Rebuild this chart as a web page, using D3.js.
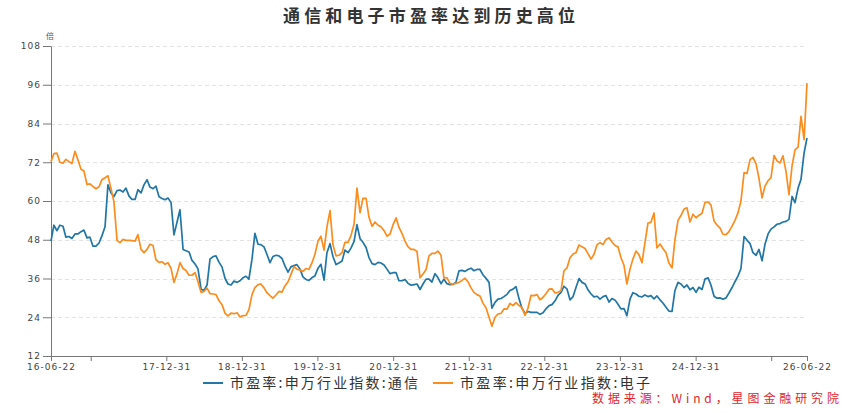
<!DOCTYPE html>
<html>
<head>
<meta charset="utf-8">
<script src="https://cdn.jsdelivr.net/npm/d3@7"></script>
<style>
  body { margin: 0; background: #fff; }
  svg { display: block; }
  .axis text { font-family: "DejaVu Sans", sans-serif; font-size: 9px; fill: #444; letter-spacing: 1px; }
  .axis path, .axis line { stroke: #777; }
  .grid line { stroke: #e2e2e2; stroke-dasharray: 4,3; }
  .cjk { font-family: "Noto Sans CJK SC", sans-serif; }
</style>
</head>
<body>
<svg id="chart" width="857" height="413"></svg>
<script>
var title = "通信和电子市盈率达到历史高位";
var unitLabel = "倍";
var sourceNote = "数据来源：Wind，星图金融研究院";

var startDay = "2016-06-22";
var endDay = "2026-06-22";
var yTicks = [12, 24, 36, 48, 60, 72, 84, 96, 108];
var xTickDays = ["2016-06-22", "2016-12-31", "2017-12-31", "2018-12-31", "2019-12-31", "2020-12-31",
  "2021-12-31", "2022-12-31", "2023-12-31", "2024-12-31", "2025-12-31", "2026-06-22"];
// These two ticks keep their mark but lose the label (it would overlap the end labels).
var unlabelledDays = ["2016-12-31", "2025-12-31"];

var seriesNames = ["市盈率:申万行业指数:通信", "市盈率:申万行业指数:电子"];
var seriesColors = ["#2176a6", "#fb8c1e"];

// Sampled about every two weeks from startDay to endDay.
var telecom = [
  47.6, 52.5, 50.8, 52.5, 52.2, 48.8, 49.0, 48.4, 49.8, 49.8,
  50.5, 51.0, 48.6, 48.8, 46.0, 46.0, 47.0, 49.2, 52.0, 65.0,
  62.5, 61.4, 63.2, 63.4, 62.8, 64.0, 61.5, 60.5, 60.5, 63.5,
  62.5, 65.0, 66.6, 64.3, 63.8, 64.6, 61.3, 60.8, 60.4, 60.9,
  59.5, 49.5, 53.5, 57.3, 45.0, 44.6, 44.2, 41.6, 40.5, 39.0,
  32.7, 32.3, 34.0, 42.0, 42.8, 43.0, 41.0, 39.6, 36.0, 34.3,
  34.0, 35.2, 34.8, 35.3, 36.2, 36.7, 35.8, 42.0, 50.0, 46.6,
  46.5, 45.8, 43.5, 40.9, 42.8, 43.2, 43.0, 42.2, 39.9, 38.0,
  39.6, 40.0, 40.3, 38.9, 36.5, 35.7, 35.4, 36.3, 36.8, 39.2,
  40.4, 35.5, 44.0, 46.8, 42.8, 40.3, 40.8, 41.4, 44.8, 44.0,
  45.4, 47.5, 52.7, 48.3, 47.2, 45.6, 42.5, 40.6, 40.3, 41.0,
  40.8, 40.2, 38.9, 37.5, 37.8, 37.8, 35.3, 35.3, 35.7, 34.5,
  33.9, 34.1, 34.3, 32.6, 34.3, 35.8, 35.8, 34.9, 37.5, 36.3,
  34.4, 35.8, 34.4, 34.1, 34.2, 34.8, 38.4, 38.5, 38.2, 38.8,
  39.2, 38.4, 38.8, 38.8, 37.1, 36.1, 34.8, 26.8, 28.6, 29.6,
  29.8, 30.4, 31.1, 32.3, 32.7, 33.5, 29.7, 26.8, 25.2, 25.8,
  25.5, 25.5, 25.5, 24.9, 25.4, 26.6, 27.6, 27.9, 29.1, 30.8,
  31.7, 33.6, 32.7, 29.4, 30.4, 33.2, 36.0, 34.8, 34.3, 32.5,
  31.2, 30.3, 30.5, 29.6, 30.4, 30.7, 28.7, 29.8, 29.3, 28.0,
  26.6, 26.7, 24.5, 29.6, 31.6, 31.2, 30.5, 30.3, 30.9, 30.4,
  30.7, 29.7, 30.6, 29.4, 28.4, 27.1, 25.9, 25.8, 32.3, 34.8,
  34.3, 33.2, 34.0, 32.5, 33.2, 31.7, 33.3, 32.6, 35.8, 36.2,
  34.0, 30.5, 29.9, 30.0, 29.6, 30.0, 31.5, 33.2, 35.0, 36.8,
  39.1, 49.0, 47.9, 46.8, 44.0, 43.2, 45.0, 41.5, 46.6, 49.8,
  51.3, 52.0, 52.8, 53.0, 53.5, 53.7, 54.3, 61.4, 59.5, 64.0,
  66.7, 74.9, 79.5
];

var electronics = [
  72.2, 74.7, 74.8, 72.0, 71.7, 72.9, 72.2, 71.6, 75.4, 72.8,
  69.8, 69.3, 65.1, 65.3, 64.5, 63.8, 64.4, 66.6, 67.2, 67.8,
  63.8, 59.8, 47.8, 47.1, 48.1, 47.8, 47.8, 47.7, 47.6, 49.6,
  45.0, 44.0, 45.0, 46.6, 46.2, 41.8, 41.0, 41.2, 40.4, 40.9,
  39.1, 34.8, 37.5, 40.9, 39.1, 38.5, 37.0, 37.0, 37.8, 35.0,
  31.7, 32.0, 33.0, 31.3, 31.2, 31.0, 29.1, 27.9, 25.2, 24.4,
  25.3, 25.1, 25.4, 24.1, 24.5, 24.6, 26.3, 31.0, 33.2, 34.1,
  34.3, 33.1, 31.6, 30.7, 29.9, 30.9, 32.0, 31.8, 33.7, 35.0,
  37.2, 39.7, 38.9, 38.6, 38.2, 39.1, 38.8, 40.9, 43.5, 47.6,
  49.1, 44.8, 52.0, 57.0, 46.5, 43.0, 43.2, 44.0, 47.2, 47.2,
  49.3, 52.8, 64.0, 56.4, 60.8, 60.8, 55.0, 52.2, 53.5, 52.5,
  52.0, 50.8, 49.1, 49.8, 52.6, 54.8, 51.8, 49.9, 47.6, 45.8,
  45.0, 45.0, 44.4, 36.2, 37.4, 38.8, 43.0, 43.8, 43.8, 44.5,
  43.2, 36.3, 36.2, 34.5, 34.2, 34.5, 34.8, 35.4, 36.1, 35.0,
  33.1, 31.7, 31.0, 30.6, 28.3, 27.0, 24.0, 21.2, 24.0, 25.0,
  25.2, 26.6, 26.5, 28.3, 27.6, 28.5, 27.6, 27.0, 24.6, 26.8,
  30.8, 30.7, 31.0, 29.4, 30.2, 31.3, 32.7, 32.8, 31.5, 31.7,
  32.3, 38.4, 39.3, 42.4, 43.6, 44.0, 46.4, 45.8, 45.3, 43.7,
  42.0, 43.5, 46.5, 47.1, 46.5, 48.1, 48.6, 47.3, 46.2, 45.8,
  42.5, 40.1, 34.3, 38.9, 42.0, 44.5, 43.4, 40.9, 47.0, 53.2,
  53.4, 56.3, 45.5, 46.7, 45.3, 44.0, 40.8, 39.3, 48.0, 54.0,
  55.5, 57.5, 57.9, 53.5, 55.9, 54.8, 55.6, 56.2, 59.5, 59.7,
  58.8, 53.8, 52.6, 51.6, 49.7, 49.6, 50.5, 52.2, 54.0, 56.4,
  60.0, 68.8, 68.5, 72.8, 73.5, 71.5, 67.0, 61.0, 64.6, 66.3,
  67.2, 74.1, 72.4, 71.8, 74.0, 69.0, 62.0, 71.0, 75.8, 76.7,
  86.2, 79.0, 96.5
];

var parseDay = d3.timeParse("%Y-%m-%d");
var start = parseDay(startDay);
var end = parseDay(endDay);
var span = d3.timeDay.count(start, end);

// Attach a date to each sample, spread evenly across the covered period.
function toPoints(values) {
  var step = span / (values.length - 1);
  return values.map(function(v, i) {
    return { date: d3.timeDay.offset(start, Math.round(i * step)), value: v };
  });
}

var series = [toPoints(telecom), toPoints(electronics)];

var plot = { left: 51, right: 807, top: 46, bottom: 356 };

var x = d3.scaleTime().domain([start, end]).range([plot.left, plot.right]);
var y = d3.scaleLinear().domain([yTicks[0], yTicks[yTicks.length - 1]]).range([plot.bottom, plot.top]);

var svg = d3.select("#chart");

// Dashed horizontal grid.
svg.append("g")
  .attr("class", "grid")
  .selectAll("line")
  .data(yTicks.slice(1))
  .enter().append("line")
    .attr("x1", plot.left)
    .attr("x2", plot.right - 2)
    .attr("y1", function(d) { return Math.round(y(d)) + 0.5; })
    .attr("y2", function(d) { return Math.round(y(d)) + 0.5; });

var fmt = d3.timeFormat("%y-%m-%d");
var xAxis = d3.axisBottom(x)
  .tickValues(xTickDays.map(parseDay))
  .tickSize(5)
  .tickSizeOuter(0)
  .tickPadding(3)
  .tickFormat(function(d) {
    var key = d3.timeFormat("%Y-%m-%d")(d);
    return unlabelledDays.indexOf(key) >= 0 ? "" : fmt(d);
  });

svg.append("g")
  .attr("class", "axis")
  .attr("transform", "translate(0," + plot.bottom + ")")
  .call(xAxis);

var yAxis = d3.axisLeft(y)
  .tickValues(yTicks)
  .tickSize(8)
  .tickSizeOuter(0)
  .tickPadding(2);

svg.append("g")
  .attr("class", "axis")
  .attr("transform", "translate(" + plot.left + ",0)")
  .call(yAxis);

// Lines.
var line = d3.line()
  .x(function(d) { return x(d.date); })
  .y(function(d) { return y(d.value); });

svg.append("g").selectAll("path")
  .data(series)
  .enter().append("path")
    .attr("d", line)
    .attr("fill", "none")
    .attr("stroke", function(d, i) { return seriesColors[i]; })
    .attr("stroke-width", 1.7)
    .attr("stroke-linejoin", "round");

// Title, unit, legend, source.
svg.append("text")
  .attr("class", "cjk")
  .attr("x", 429)
  .attr("y", 22)
  .attr("text-anchor", "middle")
  .attr("font-size", 17)
  .attr("font-weight", "bold")
  .attr("fill", "#333")
  .attr("textLength", 292)
  .attr("lengthAdjust", "spacing")
  .text(title);

svg.append("text")
  .attr("class", "cjk")
  .attr("x", 50)
  .attr("y", 39)
  .attr("text-anchor", "middle")
  .attr("font-size", 8)
  .attr("fill", "#555")
  .text(unitLabel);

var legendX = [203, 433];
var legendTextLen = [188, 190];
var legend = svg.append("g").selectAll("g")
  .data(seriesNames)
  .enter().append("g")
    .attr("transform", function(d, i) { return "translate(" + legendX[i] + ",383)"; });

legend.append("line")
  .attr("x1", 0)
  .attr("x2", 20)
  .attr("stroke", function(d, i) { return seriesColors[i]; })
  .attr("stroke-width", 2);

legend.append("text")
  .attr("class", "cjk")
  .attr("x", 27)
  .attr("y", 5)
  .attr("font-size", 14)
  .attr("fill", "#333")
  .attr("textLength", function(d, i) { return legendTextLen[i]; })
  .attr("lengthAdjust", "spacing")
  .text(function(d) { return d; });

svg.append("text")
  .attr("class", "cjk")
  .attr("x", 839)
  .attr("y", 402.5)
  .attr("text-anchor", "end")
  .attr("font-size", 12)
  .attr("fill", "#e0262c")
  .attr("textLength", 247)
  .attr("lengthAdjust", "spacing")
  .text(sourceNote);
</script>
</body>
</html>
